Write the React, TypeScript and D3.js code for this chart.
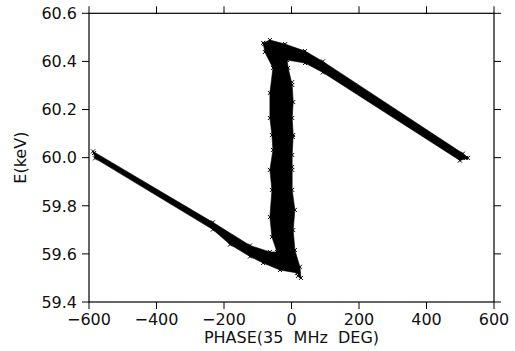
import React from 'react';
import * as d3 from 'd3';

// outline of the dense band of points, traced clockwise (phase in 35 MHz deg, energy in keV)
const outlinePhase = [
  -588, -233, -123, -64, -43,
  -58, -64, -58, -64, -55, -58, -64, -64, -55, -79, -84,
  -64, -19, 40, 93, 508, 523,
  499, 93, 40, -13,
  -10, 2, 5, 2, 5, 2, 2, 2, 10, 5, 10, 25, 28,
  16, -34, -84, -123, -182, -233, -582,
];
const outlineEnergy = [
  60.026, 59.731, 59.635, 59.608, 59.608,
  59.670, 59.753, 59.866, 59.949, 60.032, 60.094, 60.165, 60.269, 60.373, 60.439, 60.477,
  60.489, 60.472, 60.443, 60.400, 60.017, 59.999,
  59.988, 60.354, 60.393, 60.406,
  60.373, 60.302, 60.231, 60.165, 60.094, 60.011, 59.949, 59.866, 59.783, 59.699, 59.616, 59.546, 59.500,
  59.521, 59.533, 59.562, 59.589, 59.639, 59.701, 59.997,
];

// single points that stand out of the band
const strayPhase = [-58, 4, 2, 2, -585, 517, 19, -81];
const strayEnergy = [60.273, 60.086, 59.961, 60.314, 60.019, 59.999, 59.508, 60.472];

const xTicks = [-600, -400, -200, 0, 200, 400, 600];
const yTicks = [59.4, 59.6, 59.8, 60.0, 60.2, 60.4, 60.6];

const W = 515;
const H = 351;
const font = 'DejaVu Sans, sans-serif';

export default function App() {
  const x = d3.scaleLinear().domain([-600, 600]).range([89, 494]);
  const y = d3.scaleLinear().domain([59.4, 60.6]).range([302, 13.3]);

  const outline: [number, number][] = outlinePhase.map((p, i) => [p, outlineEnergy[i]]);
  const stray: [number, number][] = strayPhase.map((p, i) => [p, strayEnergy[i]]);

  const band = d3.line<[number, number]>()
    .x(d => x(d[0]))
    .y(d => y(d[1]))
    .curve(d3.curveLinearClosed);

  const cross = 'M-2,-2L2,2M-2,2L2,-2';
  const [x0, x1] = x.range();
  const [y0, y1] = y.range();
  const tick = 7;
  const fmt = d3.format('.1f');

  return (
    <svg width={W} height={H} style={{ position: 'absolute', left: 0, top: 0, background: '#fff' }}>
      {/* data */}
      <path d={band(outline) || ''} fill="#000" stroke="#000" strokeWidth={0.6} strokeLinejoin="round" />
      {outline.concat(stray).map((d, i) => (
        <path key={i} d={cross} transform={`translate(${x(d[0])},${y(d[1])})`} stroke="#000" strokeWidth={1} fill="none" />
      ))}

      {/* frame */}
      <rect x={x0} y={y1} width={x1 - x0} height={y0 - y1} fill="none" stroke="#000" strokeWidth={1.2} />
      {xTicks.map(t => (
        <g key={'x' + t}>
          <line x1={x(t)} x2={x(t)} y1={y0} y2={y0 + tick} stroke="#000" />
          <line x1={x(t)} x2={x(t)} y1={y1} y2={y1 - tick} stroke="#000" />
          <text x={x(t)} y={325} textAnchor="middle" fontFamily={font} fontSize={16} fill="#111">
            {d3.format('d')(t)}
          </text>
        </g>
      ))}
      {yTicks.map(t => (
        <g key={'y' + t}>
          <line x1={x0 - tick} x2={x0} y1={y(t)} y2={y(t)} stroke="#000" />
          <line x1={x1} x2={x1 + tick} y1={y(t)} y2={y(t)} stroke="#000" />
          <text x={77} y={y(t)} dy="0.36em" textAnchor="end" fontFamily={font} fontSize={16} fill="#111">
            {fmt(t)}
          </text>
        </g>
      ))}

      {/* axis titles */}
      <text x={(x0 + x1) / 2} y={343} textAnchor="middle" fontFamily={font} fontSize={16} fill="#111" style={{ whiteSpace: 'pre' }}>
        {'PHASE(35  MHz  DEG)'}
      </text>
      <text transform={`translate(26,${(y0 + y1) / 2}) rotate(-90)`} textAnchor="middle" fontFamily={font} fontSize={16} fill="#111">
        E(keV)
      </text>
    </svg>
  );
}
